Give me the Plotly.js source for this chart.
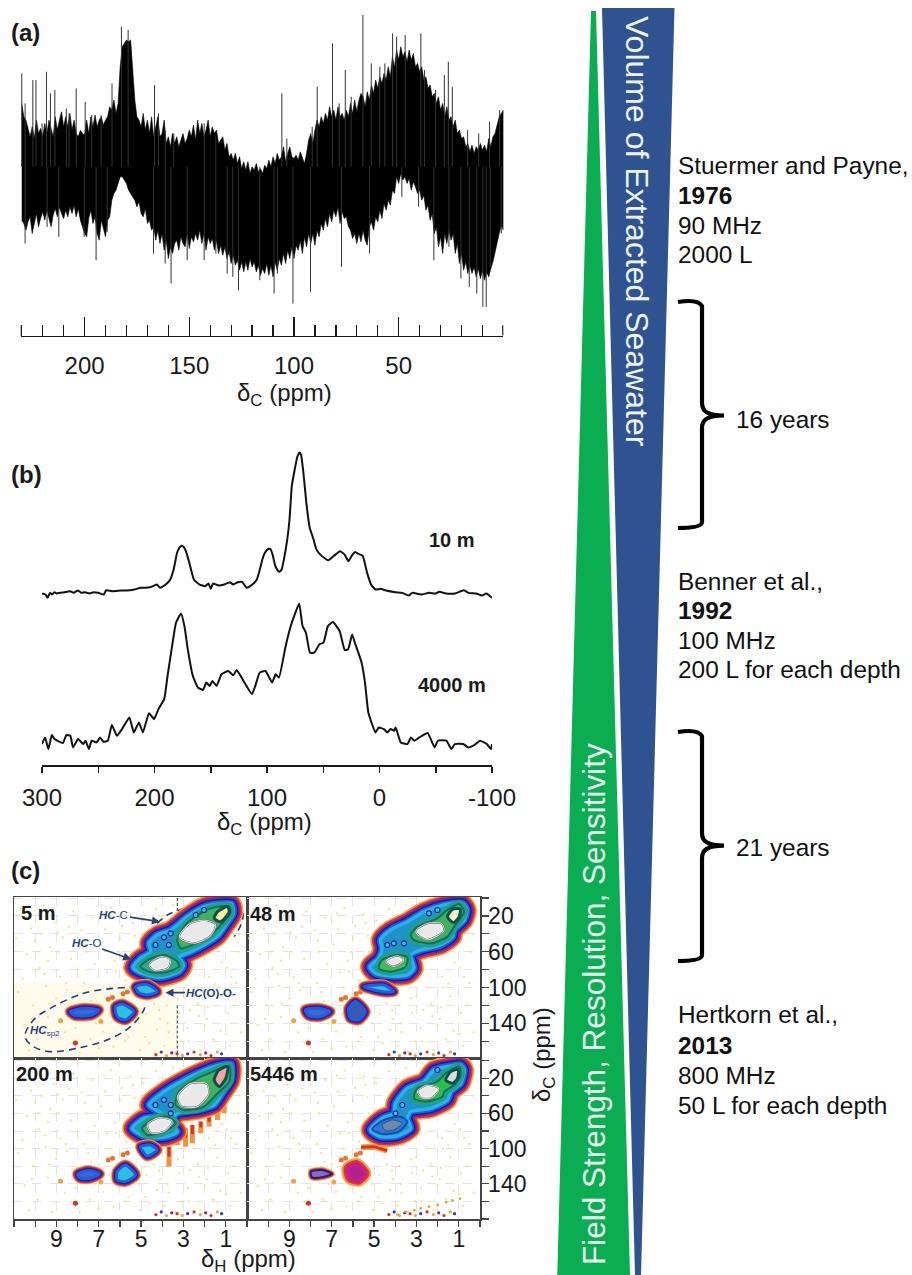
<!DOCTYPE html>
<html><head><meta charset="utf-8">
<script src="https://cdn.plot.ly/plotly-3.0.1.min.js"></script>
<style>html,body{margin:0;padding:0;background:#fff}#g{width:912px;height:1275px}</style>
</head><body><div id="g"></div>
<script>
// ---------- panel (a): envelopes read at every 1 ppm, from 230 ppm down to 0 ppm ----------
const upperA=[690,650,640,610,590,620,585,640,600,615,590,630,600,640,610,590,650,610,640,665,620,650,620,660,610,640,600,590,610,600,595,640,600,650,620,655,620,640,650,625,640,650,680,670,700,660,690,800,860,870,880,875,880,790,700,650,640,620,660,610,640,600,650,590,620,650,590,600,640,570,590,560,600,570,590,560,580,600,570,585,610,590,625,580,640,600,630,590,610,640,590,620,600,610,570,580,590,550,570,530,540,520,540,510,530,495,515,490,515,480,500,490,510,485,495,480,505,495,520,500,530,510,540,520,530,560,515,540,560,530,525,535,520,545,530,510,540,580,600,570,610,640,620,650,630,660,640,680,650,670,640,680,650,660,640,670,650,690,660,700,665,700,720,710,680,725,700,745,720,760,735,770,750,780,760,800,770,830,800,850,820,860,830,845,815,850,820,840,800,810,785,800,760,770,735,745,710,720,690,710,670,690,650,680,640,650,620,640,600,610,585,590,560,570,545,565,540,560,550,570,550,565,545,585,560,590,600,630,650,660,670];
const lowerA=[340,330,310,335,350,300,330,360,320,345,365,340,370,345,320,355,375,350,380,360,345,370,350,380,360,385,350,375,340,320,300,290,345,370,330,350,300,280,340,320,290,340,350,400,420,430,450,470,470,460,450,430,420,410,400,380,395,360,350,375,330,340,310,320,280,310,270,300,250,280,225,260,240,270,280,250,290,270,260,300,255,290,275,300,280,310,270,300,250,290,270,285,250,280,240,265,235,260,225,245,210,235,205,220,190,215,185,215,190,225,200,215,185,205,175,195,180,210,175,205,170,215,190,225,205,240,210,250,225,260,225,265,250,280,240,290,260,300,270,300,265,310,290,330,310,345,320,360,335,370,350,380,330,365,345,350,320,310,285,300,270,300,275,310,280,265,320,335,310,350,335,370,345,390,370,400,385,430,420,470,450,480,460,470,450,465,430,455,440,420,430,400,415,370,385,340,360,300,320,260,290,240,300,270,310,280,300,240,270,210,240,190,215,180,205,180,200,170,195,165,190,160,185,170,195,215,240,270,300,325,310];
// the isolated tall peaks that rise out of the envelopes
const spikeUpPpm=[230,228.4,224.7,223.2,220.3,218.2,216.3,214.2,208.7,207.4,204,199.7,196.6,192.1,186.9,182.4,179.2,166.6,164.7,161.5,157.4,142.9,137.3,105.8,103.4,88.9,91.3,81.6,78.4,75.5,72.7,67.1,63.1,59,56.6,52.9,51,46.9,39.4,37.7,32.4,28.2,26.3,24.4,17.1,11.8,6.6,1.8];
const spikeUpTop=[780,690,760,760,630,785,720,730,675,660,735,695,655,655,750,920,910,745,660,610,600,630,590,720,585,740,620,870,690,790,710,955,810,800,810,900,890,895,900,790,730,775,815,740,610,600,635,670];
const spikeDownPpm=[228.4,217.9,212.3,200.2,194.5,189.2,167.1,161.5,158.7,151,142.9,137.3,131.9,129.2,126.5,116.3,109.5,107.9,100.5,92.1,77.3,63.9,48.5,40.5,33.2,26,20.3,16.3,12.7,9.8,8.2,6.3,1];
const spikeDownBottom=[270,320,290,290,220,305,240,210,150,220,220,240,180,170,130,160,120,180,90,125,200,240,410,380,220,260,165,140,120,80,80,200,300];
const tickValsA=[50,100,150,200];
// ---------- panel (b) ----------
const ppm10m=[300,297,295,293,291,289,287,284,280,275,272,268,265,262,258,254,250,245,243,238,230,222,218,212,208,203,198,195,190,186,183,180,178,176,174,172,169,165,160,155,152,150,148,143,138,133,130,126,122,118,113,109,106,104,102,99,97,95,93,91,89,87,85,82,80,78,76,73,71,69.7,67.6,65,62,59,56,51.7,45.6,41,35,31,27.6,24.6,21.6,18.6,15,11,7.5,3.6,-1,-5,-14,-20,-26,-29,-37,-44,-50,-53,-59,-67,-75,-79,-86,-91,-95,-100];
const int10m=[508,505,495,510,505,512,508,510,512,515,510,517,510,512,508,512,510,505,518,515,517,518,520,525,525,528,535,525,535,550,580,630,645,652,648,635,600,550,535,530,538,522,538,532,535,542,535,542,543,525,535,550,585,612,630,642,642,625,595,580,573,580,610,670,730,830,870,920,932,925,870,780,705,675,640,622,608,620,635,625,605,622,633,627,622,570,535,520,522,518,512,510,502,510,505,510,508,513,508,508,518,510,508,502,508,495];
const ppm4000m=[300,297.3,294.3,291.3,288.9,281.4,278.4,274.8,272.4,267.9,263.4,261.3,258.3,255.9,251.4,248.4,245.4,241.5,237.9,233.4,228.9,222.3,218.4,213.9,210.3,204.9,200.4,196.5,191.4,188.4,183.9,180.9,176.4,173.4,170.4,165.9,161.4,156.9,153.9,150.9,148.5,144.9,140.4,134.4,129.9,126.9,120.9,113.4,110.4,106.5,101.4,95.4,92.4,89.4,83.4,78.9,75.9,71.4,68.4,65.4,61.8,57.9,53.4,49.8,45.9,41.4,35.4,30.9,27.9,24.3,21.9,15.9,12.9,9.9,3.6,0.6,-3.9,-6.9,-9.9,-12.9,-14.4,-18.9,-24.9,-27.9,-30.9,-35.4,-42.9,-48.9,-51.9,-59.4,-63.9,-66.9,-74.4,-78.9,-83.4,-89.4,-95.4,-99,-100];
const int4000m=[55,75,40,82,70,58,82,80,45,70,55,65,40,65,60,75,62,65,112,80,100,135,90,120,90,148,130,160,190,260,360,420,448,410,340,260,225,218,240,230,245,230,265,275,262,278,245,205,230,270,275,240,265,255,350,410,440,478,410,390,330,330,355,360,410,422,395,338,340,385,360,300,240,150,90,105,100,90,100,95,105,60,55,75,65,75,88,45,65,65,40,55,55,45,50,65,55,40,55];
const tickValsB=[300,200,100,0,-100];
const tickTextB=['300','200','100','0','-100'];
// ---------- panel (c): 5 m ----------
const r5H=[0.73,0.65,1.0,1.39,2.03,2.74,3.21,3.0,3.21,4.08,4.87,5.38,5.03,4.55,4.63,4.24,3.6,2.82,2.03,1.39];
const r5C=[6.6,17,30,42.4,52.4,61,65.5,74.8,82.2,88.6,84.8,77.4,67.3,59.9,50.6,41.3,35.7,20.8,9.6,6.6];
const g5uH=[0.84,0.79,1.24,1.71,2.34,3.13,3.29,2.9,2.18,1.55], g5uC=[9.6,17,30,41.3,49.8,56.2,46.8,30,17,10.4];
const g5lH=[5.03,4.63,3.92,3.29,3.21,3.92,4.63], g5lC=[76.6,68.4,63.6,71,76.6,83.3,82.2];
const c5uH=[3.13,2.66,2.03,1.55,1.79,2.5], c5uC=[43.1,30,26.4,30,41.3,48.7];
const c5lH=[4.55,4.08,3.69,3.76,4.32], c5lC=[74.8,67.3,69.2,76.6,79.6];
const p5H=[1.55,1.39,0.92,0.84,1.24], p5C=[22.6,15.2,9.6,15.2,26.4];
const s5aH=[5.26,4.71,4.24,4.71,5.11], s5aC=[99,96.4,104.6,108.3,105.7];
const s5bH=[8.35,7.71,7.0,7.32,8.11], s5bC=[126.9,123.2,125,130.6,131.4];
const s5cH=[6.21,5.9,5.34,5.74,6.13], s5cC=[121.3,118.3,126.9,136.2,132.5];
const d5H=[3.92,3.6,4.32,3.69,2.42,2.03], d5C=[43.9,39.4,52.4,52.4,18.9,13.3];
const hcCOvalH=[4.24,3.76,2.97,2.18,1.39,0.6,0.2,0.26,0.6], hcCOvalC=[28.2,18.9,11.5,5.9,2.9,5.9,15.2,28.2,43.1];
const sp2OvalH=[5.19,6.29,7.71,9.14,10.08,10.48,10.08,9.29,8.03,6.61,5.5,4.87,4.79], sp2OvalC=[99.7,100.8,106.4,121.3,136.2,154.8,166,171.6,167.9,158.6,143.7,125,117.6];
// ---------- panel (c): 48 m ----------
const r48H=[0.83,0.62,0.75,1.22,1.3,1.85,2.8,3.27,3.12,3.43,4.22,4.93,5.2,4.78,4.62,4.7,4.22,3.43,2.64,1.7];
const r48C=[5.9,13.3,24.5,35.7,43.1,52.4,58,63.6,78.5,85.9,87,84.1,76.6,67.3,56.1,46.8,35.7,26.4,15.2,7.7];
const g48uH=[0.98,0.75,1.22,1.54,2.33,3.12,3.27,2.96,2.01,1.54], g48uC=[6.6,15.2,31.9,43.1,50.6,46.8,41.2,32,22.6,13.3];
const g48lH=[4.62,3.91,3.43,3.51,4.22,4.78], g48lC=[69.2,63.6,66.2,76.6,82.2,78.5];
const c48uH=[2.96,2.49,1.85,1.77,2.49], c48uC=[37.5,30.1,30.1,35.7,45];
const c48lH=[4.38,3.91,3.67,4.07], c48lC=[71,66.2,69.2,74.8];
const p48H=[1.54,1.3,0.94,0.98,1.25], p48C=[20.8,12.6,12.2,20.8,27.5];
const s48aH=[5.49,4.54,4.07,4.62], s48aC=[99,97.1,104.6,104.6];
const s48bH=[8.25,7.62,7.07,7.54,8.09], s48bC=[125,123.2,126.9,132.5,131.4];
const s48cH=[6.2,5.88,5.41,5.72,6.12], s48cC=[123.2,115.7,126.9,136.2,134.3];
const d48H=[4.07,4.38,3.59,2.41,2.01], d48C=[50.6,52.4,50.6,17,13.3];
// ---------- panel (c): 200 m ----------
const r200H=[0.76,0.76,1.16,1.55,2.34,3.29,3.6,3.29,3.76,4.71,5.26,5.42,4.87,3.92,4.63,3.92,3.13,2.34,1.55];
const r200C=[3.8,22,37.1,50.4,56.1,59.9,71.2,80.7,86.4,87.1,80.7,76.9,65.6,61.8,50.4,35.2,23.9,14.4,6.8];
const g200uH=[0.84,0.84,1.39,2.03,2.97,3.37,3.21,2.34,1.79], g200uC=[6.1,23.9,37.1,52.3,56.1,50.4,35.2,20.1,14.4];
const g200lH=[4.95,4.48,3.76,3.37,3.92,4.71], g200lC=[76.9,67.4,63.7,71.2,80.7,84.5];
const c200uH=[3.21,2.66,1.95,1.87,2.34,3.05], c200uC=[40.9,27.7,27.7,37.1,50.4,50.4];
const c200lH=[4.63,4.16,3.6,3.92,4.48], c200lC=[73.1,66.7,69.3,78.8,80.7];
const p200H=[1.55,1.32,0.92,1.0,1.32], p200C=[22,10.6,6.8,20.1,29.6];
const s200aH=[5.03,4.55,4.24,4.71], s200aC=[97.8,95.9,101.5,108.4];
const s200bH=[8,7.48,6.96,7.4,7.87], s200bC=[128.8,125,128.8,133.7,133.7];
const s200cH=[6.13,5.74,5.26,5.74,6.13], s200cC=[126.2,118.6,129.9,137.5,135.6];
const d200H=[4.32,3.92,3.6,3.6], d200C=[50.4,44.7,50.4,59.9];
const bleedH=[2.9,2.58,2.18,1.79,1.39,1.08,3.68,3.29], bleedTop=[76.9,73.1,69.3,63.7,52.3,44.7,97.8,82.6], bleedEnd=[97.8,94,82.6,75,67.4,59.9,120.5,95.9];
// ---------- panel (c): 5446 m ----------
const r5446H=[0.91,0.75,0.91,1.38,1.54,2.33,3.27,3.43,3.27,3.91,4.7,5.17,4.62,4.07,3.99,3.43,2.64,2.17,1.38];
const r5446C=[4.9,10.6,25.8,35.3,44.7,54.2,58,65.6,76.9,85.6,86.4,78.8,65.6,59.9,48.5,31.5,23.9,10.6,6.1];
const g5446uH=[0.98,0.91,1.22,1.69,1.77,2.56,3.12,2.96,2.01,1.62], g5446uC=[6.8,16.3,27.7,35.3,40.9,46.6,42.8,31.5,23.9,14.4];
const b5446lH=[5.09,4.54,3.75,3.43,3.83,4.62], b5446lC=[78,67.4,63.7,69.3,80.7,83.4];
const c5446uH=[2.88,2.49,2.01,2.33,2.72], c5446uC=[35.3,29.6,32.6,40.9,40.9];
const c5446lH=[4.62,4.14,3.67,4.07,4.46], c5446lC=[73.1,67.4,71.2,78.8,79.6];
const p5446H=[1.62,1.38,1.03,1.06,1.3], p5446C=[22,12.5,9.9,20.1,25.8];
const t5446H=[5.61,5.01,4.38], t5446C=[98.5,97.8,102.3];
const s5446bH=[7.98,7.46,6.99,7.46,7.94], s5446bC=[126.2,124.3,128.8,132.6,132.6];
const s5446cH=[6.25,5.84,5.41,5.72,6.15], s5446cC=[122.4,117.5,128,136.4,133.7];
const d5446H=[3.67,3.99,2.01], d5446C=[50.4,59.9,10.6];
// ---------- shared faint features ----------
const speckH=[10.7,10.2,9.6,9.1,8.7,8.2,7.8,7.3,6.9,6.4,5.9,5.5,10.4,9.8,9.3,8.8,8.3,7.7,7.2,6.6,6.1,5.7,10.8,10.1,9.5,9.0,8.5,10.5,9.9,9.4,8.6,8.1,7.4,6.8,6.3,5.6,5.1,4.6,4.1,3.7,3.2,2.8,2.3,1.9,1.4,0.9,0.5,2.5,1.8,1.2,0.4,0.3,0.8,1.6,2.2,3.4,4.4,3.8,10.9,10.3,9.2,7.9,6.5,7.0,7.5,8.0,8.9,9.7,5.3,6.0,6.7,4.9,4.3,3.5,10.6,10.0,9.4,8.4,7.6,7.0,6.2,5.4,4.8,3.0,2.0,1.0,0.6,1.5,2.7,3.9,10.45,9.85,9.35,8.95,8.55,8.05,7.65,7.15,6.75,6.25,5.75,5.25,4.75,4.25,3.75,3.25,2.75,2.25,1.75,1.25,0.75,0.35,10.15,9.55,8.25,7.35,6.45,5.05,4.15,3.05,1.85,0.95];
const speckC=[12,34,8,27,44,15,36,22,52,11,31,18,63,78,55,88,68,95,74,83,60,92,105,120,98,112,103,142,158,133,150,145,158,149,166,155,140,162,135,150,128,145,118,135,110,128,95,100,88,72,60,150,165,158,170,172,118,120,45,170,172,172,130,118,105,80,60,40,42,45,35,25,12,8,90,48,70,32,60,168,82,28,155,110,142,152,120,96,125,165,22,60,118,38,95,124,48,140,17,70,160,60,130,147,140,112,160,132,100,148,88,40,135,85,162,115,100,170,125,160,122,78];
const streakH=[4.3,4.05,3.8,3.55,3.3,3.05,2.8,2.5,2.2,1.95,1.7,1.4,1.2];
const streakC=[175,172,176,173,174,176,174,172,175,173,176,172,174];
const accentH=[8.1,8.8,6.9,6.55,6.35,5.85,5.65];
const accentC=[162,137,138,113,111,107,105];
const accentColors=['#d9302a','#f2a33c','#f2a33c','#e8762a','#e8762a','#e8762a','#e8762a'];
const secondStreakH=[3.9,3.5,3.1,2.8,2.4,2.0,1.6,1.3,0.95];
const secondStreakC=[175,172,170,168,166,164,161,159,157];
const tickValsH=[9,7,5,3,1];
const tickValsC=[20,60,100,140];

const W=912,H=1275;
const dx=p=>p/W, dy=p=>1-p/H;
const PP=(x,y)=>(x/W).toFixed(5)+' '+(1-y/H).toFixed(5);
const ink='#1a1a1a', navyText='#2a3f7e', FF='Liberation Sans, Arial, sans-serif';
const traces=[];
const close=a=>a.concat([a[0]]);
function add(t){t.hoverinfo='skip';t.showlegend=false;traces.push(t);}
function bands(x,y,n,widths,colors,fill){
  widths.forEach((w,i)=>{
    const last=i===widths.length-1;
    const t={x:close(x),y:close(y),xaxis:'x'+n,yaxis:'y'+n,mode:'lines',line:{color:colors[i],width:w,shape:'spline',smoothing:0.7}};
    if(last){t.fill='toself';t.fillcolor=fill;}
    add(t);
  });
}
const RW=[20,17,13.5,10,7,3.5], RC=['#f5a23a','#e2332a','#7c1fa0','#1c1f90','#1f5ee0','#25b3e8'];
const SW=[11,9,7,5,3], SC=['#f5a23a','#e2332a','#7c1fa0','#1c1f90','#1f5ee0'];
function ridge(x,y,n){bands(x,y,n,RW,RC,'#1f93c9');}
function small(x,y,n,fill){bands(x,y,n,SW,SC,fill||'#2bbfe0');}
function green(x,y,n,fill){bands(x,y,n,[8,2],['#1fa184','#0f6e68'],fill||'#3db35a');}
function core(x,y,n){bands(x,y,n,[5,3.8,2.4,1.2],['#6e6e6e','#f2f2f2','#6e6e6e','#f2f2f2'],'#e8e8e8');}
function peak(x,y,n,fill){bands(x,y,n,[3],['#124f4a'],fill);}
function details(x,y,n){add({x,y,xaxis:'x'+n,yaxis:'y'+n,mode:'markers',marker:{size:5,color:'#26c6e8',line:{color:'#1c1f90',width:1.2}}});}
function faint(n){
  add({x:speckH,y:speckC,xaxis:'x'+n,yaxis:'y'+n,mode:'markers',marker:{size:2.2,color:'#eedc72',opacity:0.85}});
  add({x:streakH,y:streakC,xaxis:'x'+n,yaxis:'y'+n,mode:'markers',marker:{size:3.2,color:['#d9302a','#3a3a9a','#f2a33c','#7c1fa0','#d9302a','#f2a33c','#3a3a9a','#d9302a','#f2a33c','#7c1fa0','#d9302a','#f2a33c','#3a3a9a']}});
  add({x:accentH,y:accentC,xaxis:'x'+n,yaxis:'y'+n,mode:'markers',marker:{size:5,color:accentColors}});
}
// (a) filled spectrum and spikes (index 0 of an envelope is 230 ppm, one step is 1 ppm)
const ppmA=upperA.map((_,i)=>230-i);
add({x:ppmA.concat(ppmA.slice().reverse()),y:upperA.concat(lowerA.slice().reverse()),xaxis:'x',yaxis:'y',mode:'lines',fill:'toself',fillcolor:'#000',line:{color:'#000',width:0.6}});
const upX=[],upY=[];spikeUpPpm.forEach((p,i)=>{upX.push(p,p,null);upY.push(500,spikeUpTop[i],null);});
const dnX=[],dnY=[];spikeDownPpm.forEach((p,i)=>{dnX.push(p,p,null);dnY.push(500,spikeDownBottom[i],null);});
add({x:upX,y:upY,xaxis:'x',yaxis:'y',mode:'lines',line:{color:'#333',width:1}});
add({x:dnX,y:dnY,xaxis:'x',yaxis:'y',mode:'lines',line:{color:'#333',width:1}});
add({x:[230.5,230.5,null,0.2,0.2],y:[25,-38,null,25,-38],xaxis:'x',yaxis:'y',mode:'lines',cliponaxis:false,line:{color:ink,width:1.6}});
// (b)
add({x:ppm10m,y:int10m,xaxis:'x2',yaxis:'y2',mode:'lines',line:{color:'#111',width:2,shape:'spline',smoothing:0.4}});
add({x:ppm4000m,y:int4000m,xaxis:'x2',yaxis:'y2',mode:'lines',line:{color:'#111',width:2,shape:'spline',smoothing:0.4}});
// (c) 5 m
add({x:[11,3.29,3.29,11,11],y:[95,95,178,178,95],xaxis:'x3',yaxis:'y3',mode:'lines',fill:'toself',fillcolor:'#fefbea',line:{width:0,color:'#fefbea'}});
faint(3);
add({x:[3.29,3.29,null,3.29,3.29],y:[0,30,null,120,177],xaxis:'x3',yaxis:'y3',mode:'lines',line:{color:'#555',width:1.2,dash:'3px,2px'}});
add({x:hcCOvalH,y:hcCOvalC,xaxis:'x3',yaxis:'y3',mode:'lines',line:{color:navyText,width:1.6,dash:'7px,5px',shape:'spline'}});
add({x:sp2OvalH,y:sp2OvalC,xaxis:'x3',yaxis:'y3',mode:'lines',line:{color:navyText,width:1.6,dash:'7px,5px',shape:'spline'}});
ridge(r5H,r5C,3);green(g5uH,g5uC,3);green(g5lH,g5lC,3,'#2fae82');core(c5uH,c5uC,3);core(c5lH,c5lC,3);peak(p5H,p5C,3,'#fbeea0');small(s5aH,s5aC,3);small(s5bH,s5bC,3,'#3a6ad0');small(s5cH,s5cC,3);details(d5H,d5C,3);
// 48 m
faint(4);
ridge(r48H,r48C,4);green(g48uH,g48uC,4);green(g48lH,g48lC,4,'#3fc04a');core(c48uH,c48uC,4);core(c48lH,c48lC,4);peak(p48H,p48C,4,'#f5f2d0');small(s48aH,s48aC,4);small(s48bH,s48bC,4,'#3a6ad0');small(s48cH,s48cC,4,'#3a5ab0');details(d48H,d48C,4);
// 200 m
faint(5);
bleedH.forEach((h,i)=>add({x:[h,h],y:[bleedTop[i],bleedEnd[i]],xaxis:'x5',yaxis:'y5',mode:'lines',line:{color:'#f2933a',width:5}}));
bleedH.forEach((h,i)=>add({x:[h,h],y:[bleedTop[i],(bleedTop[i]+bleedEnd[i])/2],xaxis:'x5',yaxis:'y5',mode:'lines',line:{color:'#d9302a',width:3}}));
ridge(r200H,r200C,5);green(g200uH,g200uC,5);green(g200lH,g200lC,5,'#4aaf6a');core(c200uH,c200uC,5);core(c200lH,c200lC,5);peak(p200H,p200C,5,'#f7a3a0');small(s200aH,s200aC,5);small(s200bH,s200bC,5,'#3a6ad0');small(s200cH,s200cC,5);details(d200H,d200C,5);
// 5446 m
faint(6);
add({x:secondStreakH,y:secondStreakC,xaxis:'x6',yaxis:'y6',mode:'markers',marker:{size:2.8,color:'#e8a13c'}});
add({x:t5446H,y:t5446C,xaxis:'x6',yaxis:'y6',mode:'lines',line:{color:'#f5a23a',width:6}});
add({x:t5446H,y:t5446C,xaxis:'x6',yaxis:'y6',mode:'lines',line:{color:'#d9302a',width:3}});
ridge(r5446H,r5446C,6);green(g5446uH,g5446uC,6,'#27c245');bands(b5446lH,b5446lC,6,[2],['#124fb0'],'#2b78d8');
core(c5446uH,c5446uC,6);bands(c5446lH,c5446lC,6,[1],['#3a4a7a'],'#6b8ca8');peak(p5446H,p5446C,6,'#dcdcdc');
bands(s5446bH,s5446bC,6,[6,4,2],['#f5a23a','#e2332a','#1c1f90'],'#8a6ac0');
bands(s5446cH,s5446cC,6,[12,8,4],['#f5a23a','#e2332a','#c51f8e'],'#b0208e');
details(d5446H,d5446C,6);

// ---------- axes ----------
const tf={family:FF,size:24,color:ink};
const boxes={3:[14,247,897,1058],4:[247,480,897,1058],5:[14,247,1058,1219],6:[247,480,1058,1219]};
const layout={width:W,height:H,margin:{l:0,r:0,t:0,b:0},paper_bgcolor:'#fff',plot_bgcolor:'rgba(0,0,0,0)',font:{family:FF,color:ink},showlegend:false,hovermode:false,
 xaxis:{domain:[dx(20.7),dx(503.4)],range:[230.5,0],anchor:'y',showline:true,linecolor:ink,linewidth:1.5,showgrid:false,zeroline:false,
  tickmode:'array',tickvals:tickValsA,ticks:'inside',ticklen:19,tickwidth:1.5,tickcolor:ink,ticklabelstandoff:8,tickfont:tf,
  minor:{ticks:'inside',ticklen:11,tickwidth:1.3,tickcolor:ink,dtick:10,tick0:0,showgrid:false}},
 yaxis:{domain:[dy(335.6),1],range:[-6,1000],visible:false,fixedrange:true},
 xaxis2:{domain:[dx(42),dx(492)],range:[300,-100],anchor:'y2',showline:true,linecolor:ink,linewidth:2,showgrid:false,zeroline:false,
  tickmode:'array',tickvals:tickValsB,ticktext:tickTextB,ticks:'outside',ticklen:6,tickwidth:1.5,tickcolor:ink,ticklabelstandoff:4,tickfont:tf,
  minor:{ticks:'outside',ticklen:6,tickwidth:1.5,tickcolor:ink,dtick:50,tick0:0,showgrid:false}},
 yaxis2:{domain:[dy(765),dy(430)],range:[-8,1000],visible:false,fixedrange:true},
 shapes:[
  {type:'path',xref:'paper',yref:'paper',layer:'below',fillcolor:'#2f5290',line:{width:0},path:`M ${PP(602,8)} L ${PP(674.5,8)} L ${PP(641,1275)} L ${PP(635,1275)} Z`},
  {type:'path',xref:'paper',yref:'paper',layer:'below',fillcolor:'#0aad52',line:{width:0},path:`M ${PP(591,11)} L ${PP(596,11)} L ${PP(630,1275)} L ${PP(557.3,1275)} Z`},
  {type:'path',xref:'paper',yref:'paper',line:{color:'#000',width:4.2},path:`M ${PP(678,302)} C ${PP(690,300)} ${PP(699,301)} ${PP(702,306)} L ${PP(702,403)} C ${PP(702,411)} ${PP(707,415.5)} ${PP(724,415.5)} C ${PP(707,415.5)} ${PP(702,420)} ${PP(702,428)} L ${PP(702,522)} C ${PP(702,527)} ${PP(690,528)} ${PP(678,528)}`},
  {type:'path',xref:'paper',yref:'paper',line:{color:'#000',width:4.2},path:`M ${PP(678,732)} C ${PP(690,730)} ${PP(699,731)} ${PP(702,736)} L ${PP(702,833)} C ${PP(702,841)} ${PP(707,845.7)} ${PP(724,845.7)} C ${PP(707,845.7)} ${PP(702,850)} ${PP(702,858)} L ${PP(702,955)} C ${PP(702,960)} ${PP(690,961)} ${PP(678,961)}`}
 ],
 annotations:[]
};
[3,4,5,6].forEach(n=>{
  const b=boxes[n],bottom=n>=5,right=n%2===0;
  const gc='#e4e4e4';
  layout['xaxis'+n]={domain:[dx(b[0]),dx(b[1])],range:[11,0],anchor:'y'+n,showline:true,mirror:true,linecolor:'#444',linewidth:1.5,zeroline:false,
    showgrid:true,griddash:'dash',gridcolor:gc,gridwidth:1,tickmode:'array',tickvals:tickValsH,
    showticklabels:bottom,ticks:bottom?'outside':'',ticklen:6,tickwidth:1.2,tickcolor:'#444',ticklabelstandoff:-7,tickfont:{family:FF,size:23,color:ink},
    minor:{dtick:1,tick0:0,showgrid:true,griddash:'dash',gridcolor:gc,ticks:bottom?'outside':'',ticklen:6,tickwidth:1.2,tickcolor:'#444'}};
  layout['yaxis'+n]={domain:[dy(b[3]),dy(b[2])],range:n<5?[178.7,-1.2]:[180,-3],anchor:'x'+n,side:'right',showline:true,mirror:true,linecolor:'#444',linewidth:1.5,zeroline:false,
    showgrid:true,griddash:'dash',gridcolor:gc,gridwidth:1,tickmode:'array',tickvals:tickValsC,
    showticklabels:right,ticks:right?'outside':'',ticklen:7,tickwidth:1.2,tickcolor:'#444',ticklabelstandoff:-5,tickfont:{family:FF,size:23,color:ink},
    minor:{dtick:20,tick0:0,showgrid:true,griddash:'dash',gridcolor:gc,ticks:right?'outside':'',ticklen:7,tickwidth:1.2,tickcolor:'#444'}};
});
// ---------- text ----------
function note(text,x,y,size,o){layout.annotations.push(Object.assign({text,x:dx(x),y:dy(y),xref:'paper',yref:'paper',showarrow:false,xanchor:'left',yanchor:'middle',font:{family:FF,size,color:ink}},o||{}));}
note('<b>(a)</b>',9,32,24);note('<b>(b)</b>',9,474,24);note('<b>(c)</b>',9,870,24);
note('δ<sub>C</sub> (ppm)',284,394,24,{xanchor:'center'});
note('δ<sub>C</sub> (ppm)',264,823,24,{xanchor:'center'});
note('δ<sub>H</sub> (ppm)',248,1260,24,{xanchor:'center'});
note('δ<sub>C</sub> (ppm)',543,1055,24,{xanchor:'center',textangle:-90});
note('<b>10 m</b>',452,540,20,{xanchor:'center'});
note('<b>4000 m</b>',452,685,20,{xanchor:'center'});
note('<b>5 m</b>',19,913,20);note('<b>48 m</b>',248,914,20);note('<b>200 m</b>',14,1074,20);note('<b>5446 m</b>',248,1074,20);
note('Volume of Extracted Seawater',637,231,32,{xanchor:'center',textangle:90,font:{family:FF,size:32,color:'#eef2fa'}});
note('Field Strength, Resolution, Sensitivity',594,1004,31.5,{xanchor:'center',textangle:-90,font:{family:FF,size:31.5,color:'#eafaf0'}});
const refs=[['Stuermer and Payne,','<b>1976</b>','90 MHz','2000 L'],['Benner et al.,','<b>1992</b>','100 MHz','200 L for each depth'],['Hertkorn et al.,','<b>2013</b>','800 MHz','50 L for each depth']];
const refY=[[166,195,225,254],[581,610,640,669],[1015,1045,1075,1105]];
refs.forEach((r,i)=>r.forEach((t,j)=>note(t,675.5,refY[i][j],24.4,{font:{family:FF,size:24.4,color:'#111'}})));
note('16 years',733.5,420,24.4,{font:{family:FF,size:24.4,color:'#111'}});
note('21 years',733.5,848,24.4,{font:{family:FF,size:24.4,color:'#111'}});
const dataNote=(text,x,y,ax,ay,arrow)=>layout.annotations.push({text,x,y,xref:'x3',yref:'y3',ax,ay,axref:'pixel',ayref:'pixel',showarrow:arrow,arrowhead:2,arrowwidth:1.6,arrowsize:1,arrowcolor:navyText,font:{family:FF,size:11.5,color:navyText}});
dataNote('<b><i>HC</i></b>-C',4.11,26.4,-46,-7,true);
dataNote('<b><i>HC</i></b>-O',5.47,68.4,-45,-16,true);
dataNote('<b><i>HC</i>(O)-O-</b>',3.85,105.7,46,0,true);
dataNote('<b><i>HC</i></b><sub>sp2</sub>',9.53,149,0,0,false);
Plotly.newPlot('g',traces,layout,{staticPlot:true,displayModeBar:false});
</script></body></html>
